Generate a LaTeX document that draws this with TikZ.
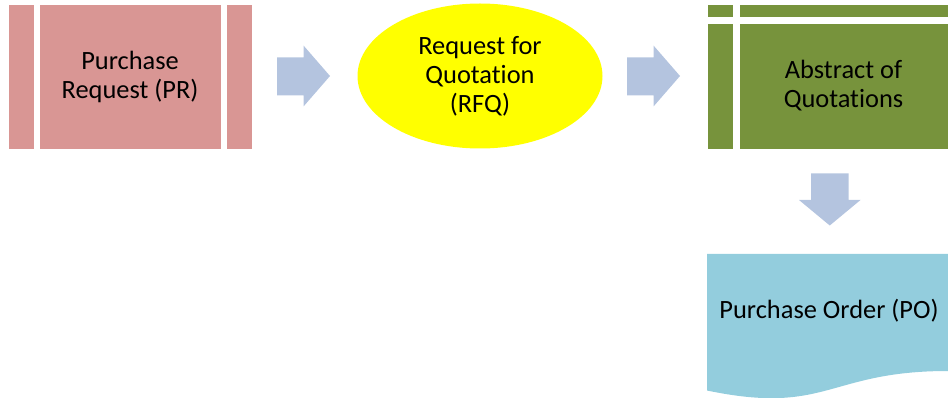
\documentclass[tikz,border=0pt]{standalone}
\usepackage{fontspec}
\setmainfont[Ligatures={NoCommon}]{Carlito}
\usetikzlibrary{shapes.geometric}
\definecolor{prpink}{HTML}{D99694}
\definecolor{rfqyellow}{HTML}{FFFF00}
\definecolor{absgreen}{HTML}{77933C}
\definecolor{poblue}{HTML}{93CDDD}
\definecolor{flowblue}{HTML}{B4C4DF}
\begin{document}
\begin{tikzpicture}[x=1pt,y=-1pt,
  label/.style={font=\fontsize{26.4}{29}\selectfont, align=center, text=black, inner sep=0pt},
  stepbox/.style={label, rectangle, draw=white, line width=0.6pt},
  flowarrow/.style={fill=flowblue, draw=none}]
  \useasboundingbox (0,0) rectangle (948,398);

  % Purchase Request: main panel with side strips
  \fill[prpink, draw=white, line width=0.6pt] (8,4) rectangle (34,149);
  \fill[prpink, draw=white, line width=0.6pt] (226,4) rectangle (252,149);
  \node[stepbox, fill=prpink, minimum width=182pt, minimum height=145pt] (pr) at (130,76.5)
    {Purchase\\Request (PR)};

  % Request for Quotation
  \node[label, ellipse, fill=rfqyellow, minimum width=245pt, minimum height=145pt] (rfq) at (480,76)
    {Request for\\Quotation\\(RFQ)};

  % Abstract of Quotations: main panel with top bar and left column
  \fill[absgreen, draw=white, line width=0.6pt] (707,4) rectangle (733,17.5);
  \fill[absgreen, draw=white, line width=0.6pt] (739,4) rectangle (948,17.5);
  \fill[absgreen, draw=white, line width=0.6pt] (707,23) rectangle (733,149);
  \node[stepbox, fill=absgreen, minimum width=209pt, minimum height=126pt] (abs) at (843.5,86)
    {Abstract of\\Quotations};

  % Purchase Order: document shape with wavy bottom
  \fill[poblue] (707,254) -- (948,254) -- (948,371)
    .. controls (827.5,371) and (827.5,415.6) .. (707,390.5) -- cycle;
  \node[label] (po) at (829,311) {Purchase Order (PO)};

  % Block arrows between the steps
  \fill[flowarrow] (277,57.5) -- (303.5,57.5) -- (303.5,45.5) -- (330,76) -- (303.5,106.5)
    -- (303.5,95.5) -- (277,95.5) -- cycle;
  \fill[flowarrow] (627,57.5) -- (653.5,57.5) -- (653.5,45.5) -- (680,76) -- (653.5,106.5)
    -- (653.5,95.5) -- (627,95.5) -- cycle;
  \fill[flowarrow] (811,173.5) -- (848.5,173.5) -- (848.5,200) -- (860.5,200) -- (829.75,225.5)
    -- (799,200) -- (811,200) -- cycle;
\end{tikzpicture}
\end{document}
